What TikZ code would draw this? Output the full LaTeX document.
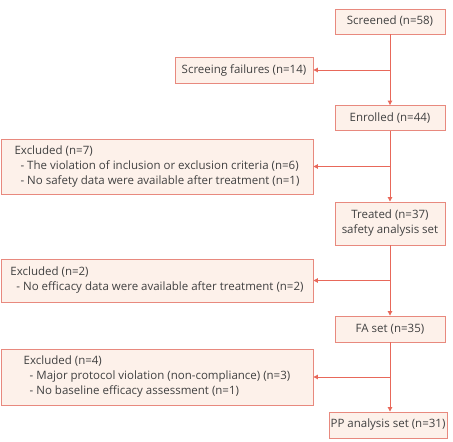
\documentclass[tikz,border=0pt]{standalone}
\usepackage{fontspec}
\setmainfont{Open Sans}
\usepackage{tikz}
\usetikzlibrary{arrows.meta, positioning}
\definecolor{Salmon}     {HTML}{E8897E}
\definecolor{SalmonLine} {HTML}{E8685A}
\definecolor{Peach}      {HTML}{FDF1EA}
\definecolor{Ink}        {HTML}{404040}

\tikzset{
  box/.style={draw=Salmon, line width=0.9pt, fill=Peach, inner sep=0pt, text=Ink,
              font=\fontsize{11.5}{15}\selectfont, align=center},
  sidebox/.style={box, align=left, minimum width=312pt},
  flow/.style={draw=SalmonLine, line width=0.9pt},
}

\begin{document}
\begin{tikzpicture}[x=1pt, y=-1pt, >={Triangle[length=4.5pt, width=4.5pt]}]
  \useasboundingbox (0,0) rectangle (453,442);
  % main column
  \node[box, minimum width=110pt, minimum height=25pt] (scr) at (390,21.5) {Screened (n=58)};
  \node[box, minimum width=110pt, minimum height=25pt] (enr) at (390,118) {Enrolled (n=44)};
  \node[box, minimum width=110pt, minimum height=43pt] (trt) at (390,223.5) {Treated (n=37)\\safety analysis set};
  \node[box, minimum width=110pt, minimum height=26pt] (fa) at (390,329) {FA set (n=35)};
  \node[box, minimum width=118pt, minimum height=26pt] (pp) at (388,425) {PP analysis set (n=31)};
  % side boxes
  \node[box, minimum width=138pt, minimum height=26pt] (fail) at (244,70) {Screeing failures (n=14)};
  \node[sidebox, minimum height=55pt] (exc1) at (157,166.5) {Excluded (n=7)\\
    \ \ - The violation of inclusion or exclusion criteria (n=6)\\
    \ \ - No safety data were available after treatment (n=1)};
  \node[sidebox, minimum height=43pt] (exc2) at (157,280.5) {Excluded (n=2)\\
    \ \ - No efficacy data were available after treatment (n=2)};
  \node[sidebox, minimum height=56pt] (exc3) at (157,377) {Excluded (n=4)\\
    \ \ - Major protocol violation (non-compliance) (n=3)\\
    \ \ - No baseline efficacy assessment (n=1)};
  % connectors
  \draw[flow, ->] (scr) -- (enr);
  \draw[flow, ->] (enr) -- (trt);
  \draw[flow, ->] (trt) -- (fa);
  \draw[flow, ->] (fa.south) -- (fa.south |- pp.north);
  \draw[flow, ->] (scr.south |- fail.east) -- (fail.east);
  \draw[flow, ->] (enr.south |- exc1.east) -- (exc1.east);
  \draw[flow, ->] (trt.south |- exc2.east) -- (exc2.east);
  \draw[flow, ->] (fa.south |- exc3.east) -- (exc3.east);
\end{tikzpicture}
\end{document}
